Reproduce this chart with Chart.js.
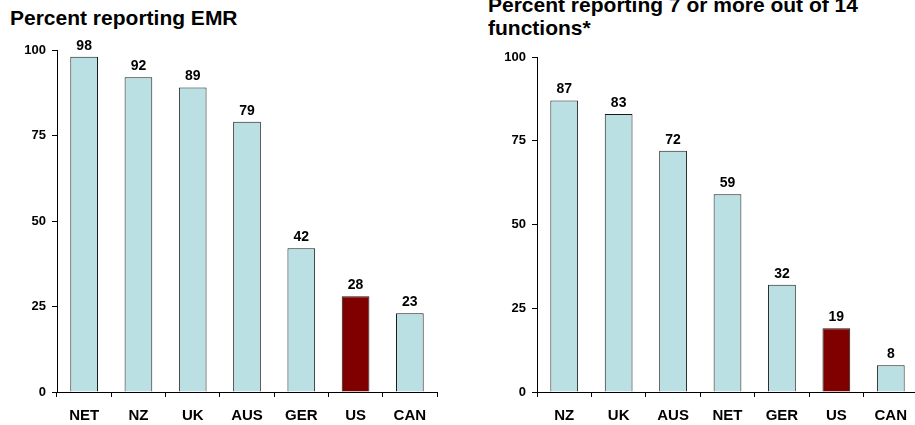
<!DOCTYPE html>
<html>
<head>
<meta charset="utf-8">
<script src="https://cdn.jsdelivr.net/npm/chart.js@4.4.1/dist/chart.umd.min.js"></script>
<style>
  html, body { margin: 0; padding: 0; background: #fff; overflow: hidden; }
  body { width: 915px; height: 425px; position: relative; font-family: Arial, "Liberation Sans", sans-serif; }
  .title { position: absolute; font-weight: bold; font-size: 21px; line-height: 23px; color: #000; white-space: nowrap; }
  .wrap { position: absolute; top: 0; height: 425px; }
</style>
</head>
<body>
<div class="title" style="left:10px; top:6px;">Percent reporting EMR</div>
<div class="title" style="left:488px; top:-7px;">Percent reporting 7 or more out of 14<br>functions*</div>
<div class="wrap" style="left:0; width:460px;"><canvas id="emrChart"></canvas></div>
<div class="wrap" style="left:460px; width:460px;"><canvas id="functionsChart"></canvas></div>
<script>
// data
const emrCountries = ['NET', 'NZ', 'UK', 'AUS', 'GER', 'US', 'CAN'];
const emrValues = [98, 92, 89, 79, 42, 28, 23];

const functionCountries = ['NZ', 'UK', 'AUS', 'NET', 'GER', 'US', 'CAN'];
const functionValues = [87, 83, 72, 59, 32, 19, 8];

const yTickValues = [0, 25, 50, 75, 100];

const BAR_COLOR = '#BAE0E3';
const HIGHLIGHT_COLOR = '#800000';
const FONT = 'Arial, "Liberation Sans", sans-serif';

// writes the value above each bar
const valueLabels = {
    id: 'valueLabels',
    afterDatasetsDraw(chart) {
        const ctx = chart.ctx;
        const meta = chart.getDatasetMeta(0);
        const values = chart.data.datasets[0].data;
        ctx.save();
        ctx.font = 'bold 14px ' + FONT;
        ctx.fillStyle = '#000';
        ctx.textAlign = 'center';
        ctx.textBaseline = 'bottom';
        meta.data.forEach((bar, i) => {
            ctx.fillText(values[i], bar.x, bar.y - 4);
        });
        ctx.restore();
    }
};

function createBarChart(canvasId, labels, values, layout) {
    const ctx = document.getElementById(canvasId);
    return new Chart(ctx.getContext('2d'), {
        type: 'bar',
        data: {
            labels: labels,
            datasets: [{
                data: values,
                backgroundColor: labels.map(l => l === 'US' ? HIGHLIGHT_COLOR : BAR_COLOR),
                borderColor: '#1a1a1a',
                borderWidth: 1,
                borderSkipped: 'bottom',
                barPercentage: 0.51,
                categoryPercentage: 1.0
            }]
        },
        options: {
            responsive: true,
            maintainAspectRatio: false,
            animation: false,
            layout: {
                padding: { left: 0, right: layout.right, top: layout.top, bottom: 0 }
            },
            plugins: {
                legend: { display: false },
                tooltip: { enabled: false }
            },
            scales: {
                x: {
                    grid: {
                        display: true,
                        drawOnChartArea: false,
                        drawTicks: true,
                        tickLength: 5,
                        color: '#000',
                        offset: true
                    },
                    border: { display: true, color: '#000', width: 1 },
                    ticks: {
                        color: '#000',
                        padding: 10,
                        font: { family: FONT, size: 15, weight: 'bold' }
                    },
                    afterFit(scale) { scale.height = 425 - layout.bottom; }
                },
                y: {
                    min: 0,
                    max: 100,
                    afterBuildTicks(scale) {
                        scale.ticks = yTickValues.map(v => ({ value: v }));
                    },
                    grid: {
                        display: true,
                        drawOnChartArea: false,
                        drawTicks: true,
                        tickLength: 5,
                        color: '#000'
                    },
                    border: { display: true, color: '#000', width: 1 },
                    ticks: {
                        color: '#000',
                        padding: 6,
                        font: { family: FONT, size: 13, weight: 'bold' }
                    },
                    afterFit(scale) { scale.width = layout.left; }
                }
            }
        },
        plugins: [valueLabels]
    });
}

createBarChart('emrChart', emrCountries, emrValues, { left: 57, right: 23, top: 50, bottom: 392 });
createBarChart('functionsChart', functionCountries, functionValues, { left: 77, right: 2, top: 57, bottom: 392 });
</script>
</body>
</html>
